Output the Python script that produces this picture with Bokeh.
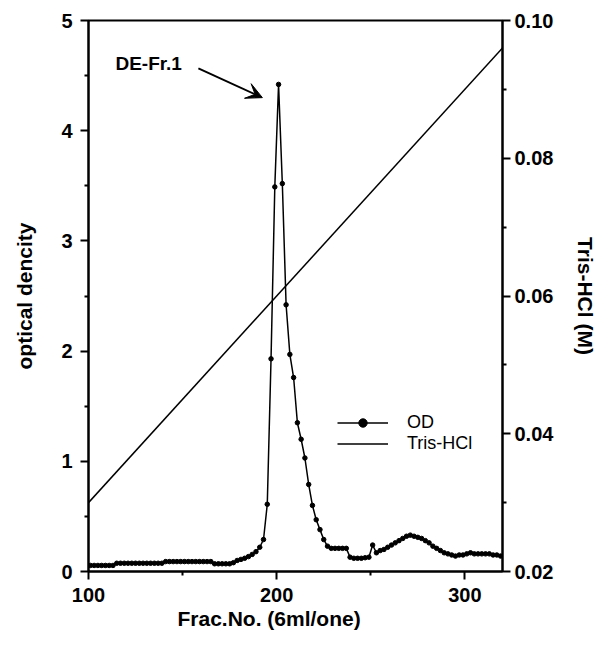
from bokeh.plotting import figure
from bokeh.models import (Range1d, LinearAxis, FixedTicker, PrintfTickFormatter,
                          Legend, LegendItem, Label, Arrow, VeeHead, Title)
from bokeh.embed import file_html
from bokeh.resources import INLINE

# ---- data ----
od_frac = list(range(101, 320, 2))
od_values = [
    0.055, 0.055, 0.055, 0.055, 0.055, 0.055, 0.055,
    0.075, 0.075, 0.075, 0.075, 0.075, 0.075, 0.075, 0.075, 0.075, 0.075, 0.075, 0.075, 0.075,
    0.09, 0.09, 0.09, 0.09, 0.09, 0.09, 0.09, 0.09, 0.09, 0.09, 0.09, 0.09, 0.09,
    0.07, 0.07, 0.07, 0.07, 0.07,
    0.08, 0.10, 0.11, 0.12, 0.135, 0.155, 0.18, 0.22, 0.29,
    0.61, 1.93, 3.49, 4.42, 3.52, 2.42, 1.97, 1.76, 1.35, 1.20, 1.03, 0.79, 0.60, 0.47, 0.38, 0.29, 0.23, 0.21,
    0.21, 0.21, 0.21, 0.21,
    0.13,
    0.12, 0.12, 0.12, 0.125, 0.13,
    0.24, 0.17, 0.19, 0.20, 0.22, 0.24, 0.26, 0.28, 0.30, 0.32, 0.33, 0.32, 0.31, 0.30, 0.28, 0.26,
    0.23, 0.21, 0.19, 0.17, 0.16, 0.15,
    0.14, 0.15, 0.15, 0.16, 0.17, 0.16, 0.16, 0.16, 0.16, 0.16, 0.15, 0.15, 0.14,
]
tris_frac = [100, 320]
tris_molar = [0.030, 0.096]

x_ticks = [100, 200, 300]
x_minor = [150, 250]
od_ticks = [0, 1, 2, 3, 4, 5]
od_minor = [0.5, 1.5, 2.5, 3.5, 4.5]
tris_ticks = [0.02, 0.04, 0.06, 0.08, 0.10]
tris_minor = [0.03, 0.05, 0.07, 0.09]

FONT = "Liberation Sans"

p = figure(width=600, height=640, output_backend="svg", toolbar_location=None,
           x_range=Range1d(100, 320), y_range=Range1d(0, 5),
           min_border_left=88, min_border_right=98, min_border_top=20, min_border_bottom=69)
p.extra_y_ranges = {"tris": Range1d(0.02, 0.10)}
p.grid.visible = False
p.outline_line_color = "black"
p.outline_line_width = 2
p.background_fill_color = "white"
p.border_fill_color = "white"

def style_axis(ax):
    ax.axis_line_width = 2
    ax.axis_line_color = "black"
    ax.major_tick_line_color = "black"
    ax.minor_tick_line_color = "black"
    ax.major_tick_line_width = 2
    ax.minor_tick_line_width = 2
    ax.major_tick_out = 8
    ax.major_tick_in = 0
    ax.minor_tick_out = 4
    ax.minor_tick_in = 0
    ax.major_label_text_font = FONT
    ax.major_label_text_font_style = "bold"
    ax.major_label_text_font_size = "20px"
    ax.major_label_text_color = "black"
    ax.axis_label_text_font = FONT
    ax.axis_label_text_font_style = "bold"
    ax.axis_label_text_font_size = "21px"
    ax.axis_label_text_color = "black"

xa = p.xaxis[0]
xa.ticker = FixedTicker(ticks=x_ticks, minor_ticks=x_minor)
style_axis(xa)
xa.major_label_standoff = 8

ya = p.yaxis[0]
ya.ticker = FixedTicker(ticks=od_ticks, minor_ticks=od_minor)
style_axis(ya)
ya.axis_label = "optical dencity"
ya.major_label_standoff = 8
ya.axis_label_standoff = 22

ra = LinearAxis(y_range_name="tris", axis_label="Tris-HCl (M)")
ra.ticker = FixedTicker(ticks=tris_ticks, minor_ticks=tris_minor)
ra.formatter = PrintfTickFormatter(format="%.2f")
style_axis(ra)
ra.major_label_standoff = 4
ra.axis_label_standoff = 18
p.add_layout(ra, "right")

p.add_layout(Title(text="Frac.No. (6ml/one)", align="left", offset=89, standoff=0,
                   text_font=FONT, text_font_style="bold", text_font_size="21px",
                   text_color="black"), "below")

od_line = p.line(od_frac, od_values, line_color="black", line_width=1.5)
od_pts = p.scatter(od_frac, od_values, size=4.5, fill_color="black", line_color="black")
tris_line = p.line(tris_frac, tris_molar, y_range_name="tris", line_color="black", line_width=1.5)

legend = Legend(items=[LegendItem(label="OD", renderers=[od_line, od_pts]),
                       LegendItem(label="Tris-HCl", renderers=[tris_line])],
                location=(249, 117), padding=0, margin=0, spacing=0,
                glyph_width=51, glyph_height=21, label_height=21, label_standoff=19,
                border_line_color=None, background_fill_alpha=0,
                label_text_font=FONT, label_text_font_size="18px", label_text_color="black")
p.add_layout(legend)

p.add_layout(Label(x=114.3, y=4.61, text="DE-Fr.1", text_font=FONT, text_font_style="bold",
                   text_font_size="19px", text_color="black", text_baseline="alphabetic"))
p.add_layout(Arrow(x_start=158.4, y_start=4.565, x_end=192.4, y_end=4.30, line_width=2,
                   line_color="black",
                   end=VeeHead(size=16, fill_color="black", line_color="black")))

open("out.html", "w").write(file_html(p, INLINE))
